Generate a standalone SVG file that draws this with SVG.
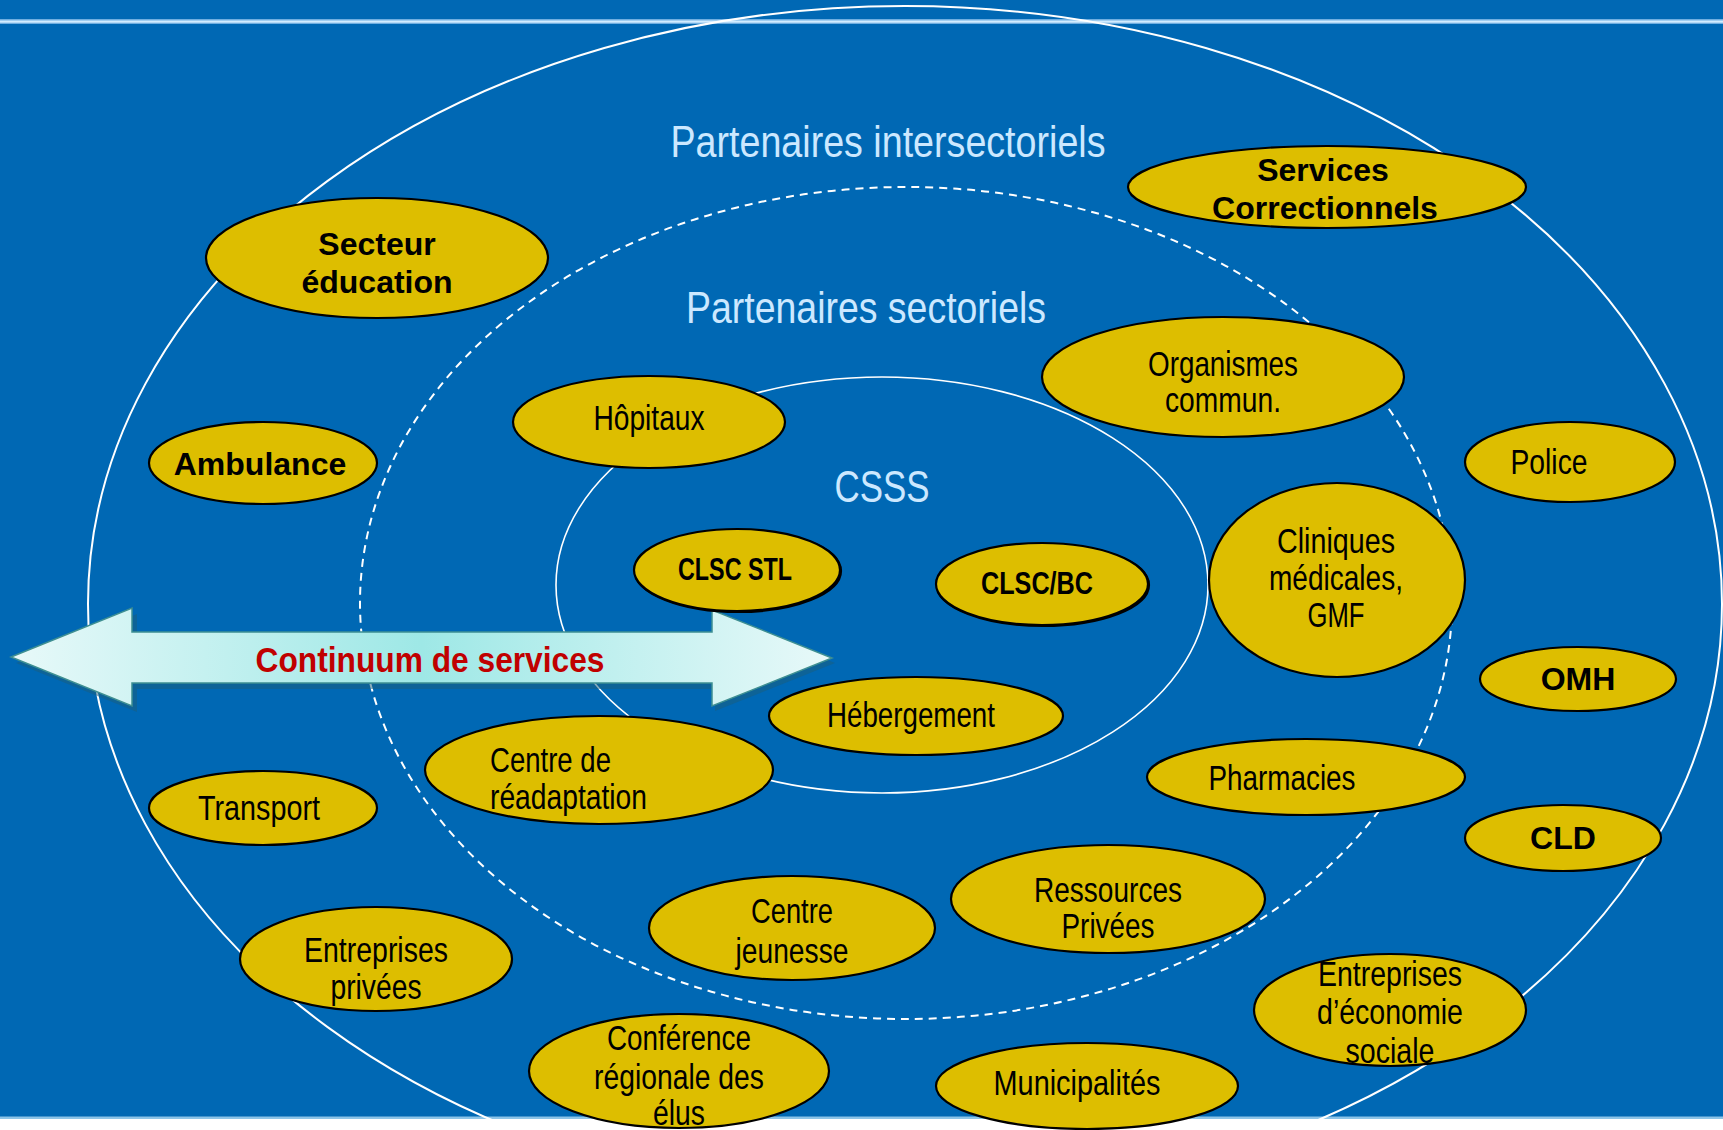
<svg xmlns="http://www.w3.org/2000/svg" width="1723" height="1130" viewBox="0 0 1723 1130">
<defs>
<style>
.node ellipse{fill:#DDBE00;stroke:#000;stroke-width:2.2}
.t{font-family:"Liberation Sans",Arial,sans-serif;font-size:35px;fill:#000;text-anchor:middle}
.s{font-family:"Liberation Sans",Arial,sans-serif;font-size:35px;fill:#000;text-anchor:start}
.b{font-family:"Liberation Sans",Arial,sans-serif;font-weight:bold;font-size:32px;fill:#000;text-anchor:middle}
.c{font-family:"Liberation Sans",Arial,sans-serif;font-weight:bold;font-size:32px;fill:#000;text-anchor:middle}
.lab{font-family:"Liberation Sans",Arial,sans-serif;font-size:45px;fill:#CCE8FF;text-anchor:middle}
</style>
<linearGradient id="arr" x1="0" y1="0" x2="1" y2="0">
<stop offset="0" stop-color="#E8F9F9"/>
<stop offset="0.5" stop-color="#9EE8E6"/>
<stop offset="1" stop-color="#E8F9F9"/>
</linearGradient>
</defs>
<rect x="0" y="0" width="1723" height="1130" fill="#0068B4"/>
<rect x="0" y="19" width="1723" height="5" fill="#6FAEE0"/>
<rect x="0" y="20.5" width="1723" height="2.2" fill="#D2ECFF"/>
<rect x="0" y="1116.5" width="1723" height="3" fill="#8CC4E8"/>
<rect x="0" y="1119" width="1723" height="11" fill="#FFFFFF"/>

<g id="rings" fill="none" stroke="#FFFFFF">
<ellipse cx="905" cy="604" rx="817" ry="598" stroke-width="2"/>
<ellipse cx="906" cy="603" rx="546" ry="416" stroke-width="2" stroke-dasharray="8 6"/>
<ellipse cx="882" cy="585" rx="326" ry="208" stroke-width="1.6"/>
</g>

<text class="lab" x="888" y="157" textLength="435" lengthAdjust="spacingAndGlyphs">Partenaires intersectoriels</text>
<text class="lab" x="866" y="323" textLength="360" lengthAdjust="spacingAndGlyphs">Partenaires sectoriels</text>
<text class="lab" x="882" y="502" textLength="95" lengthAdjust="spacingAndGlyphs">CSSS</text>

<g id="continuum">
<polygon points="14,660 135,611 135,635 713,635 713,612 833,660 713,708 713,686 135,686 135,709" fill="#1B5E7A" opacity="0.5" transform="translate(2,3)"/>
<polygon points="11,657 132,608 132,632 712,632 712,610 832,658 712,706 712,683 132,683 132,706" fill="url(#arr)" stroke="#3E8F92" stroke-width="1.5"/>
<text x="430" y="672" font-family="'Liberation Sans',Arial,sans-serif" font-weight="bold" font-size="35" fill="#C00000" text-anchor="middle" textLength="349" lengthAdjust="spacingAndGlyphs">Continuum de services</text>
</g>

<g id="secteur-education" class="node"><ellipse cx="377" cy="258" rx="171" ry="60"/><text class="b" x="377" y="255">Secteur</text><text class="b" x="377" y="293">éducation</text></g>
<g id="services-correctionnels" class="node"><ellipse cx="1327" cy="187" rx="199" ry="41"/><text class="b" x="1323" y="181">Services</text><text class="b" x="1325" y="219">Correctionnels</text></g>
<g id="ambulance" class="node"><ellipse cx="263" cy="463" rx="114" ry="41"/><text class="b" x="260" y="475">Ambulance</text></g>
<g id="hopitaux" class="node"><ellipse cx="649" cy="422" rx="136" ry="46"/><text class="t" x="649" y="430" textLength="111" lengthAdjust="spacingAndGlyphs">Hôpitaux</text></g>
<g id="organismes" class="node"><ellipse cx="1223" cy="377" rx="181" ry="60"/><text class="t" x="1223" y="376" textLength="150" lengthAdjust="spacingAndGlyphs">Organismes</text><text class="t" x="1223" y="412" textLength="116" lengthAdjust="spacingAndGlyphs">commun.</text></g>
<g id="police" class="node"><ellipse cx="1570" cy="462" rx="105" ry="40"/><text class="t" x="1549" y="474" textLength="77" lengthAdjust="spacingAndGlyphs">Police</text></g>
<g id="clsc-stl" class="node"><ellipse cx="738" cy="571" rx="103" ry="41" fill="#000" stroke="none"/><ellipse cx="737" cy="570" rx="103" ry="41" stroke-width="2.5"/><text class="c" x="735" y="580" textLength="114" lengthAdjust="spacingAndGlyphs">CLSC STL</text></g>
<g id="clsc-bc" class="node"><ellipse cx="1043" cy="585" rx="106" ry="41" fill="#000" stroke="none"/><ellipse cx="1042" cy="584" rx="106" ry="41" stroke-width="2.5"/><text class="c" x="1037" y="594" textLength="112" lengthAdjust="spacingAndGlyphs">CLSC/BC</text></g>
<g id="cliniques" class="node"><ellipse cx="1337" cy="580" rx="128" ry="97"/><text class="t" x="1336" y="553" textLength="118" lengthAdjust="spacingAndGlyphs">Cliniques</text><text class="t" x="1336" y="590" textLength="134" lengthAdjust="spacingAndGlyphs">médicales,</text><text class="t" x="1336" y="627" textLength="57" lengthAdjust="spacingAndGlyphs">GMF</text></g>
<g id="omh" class="node"><ellipse cx="1578" cy="679" rx="98" ry="32"/><text class="b" x="1578" y="690">OMH</text></g>
<g id="hebergement" class="node"><ellipse cx="916" cy="716" rx="147" ry="39"/><text class="t" x="911" y="727" textLength="168" lengthAdjust="spacingAndGlyphs">Hébergement</text></g>
<g id="readaptation" class="node"><ellipse cx="599" cy="770" rx="174" ry="54"/><text class="s" x="490" y="772" textLength="121" lengthAdjust="spacingAndGlyphs">Centre de</text><text class="s" x="490" y="809" textLength="157" lengthAdjust="spacingAndGlyphs">réadaptation</text></g>
<g id="pharmacies" class="node"><ellipse cx="1306" cy="777" rx="159" ry="38"/><text class="t" x="1282" y="790" textLength="147" lengthAdjust="spacingAndGlyphs">Pharmacies</text></g>
<g id="cld" class="node"><ellipse cx="1563" cy="838" rx="98" ry="33"/><text class="b" x="1563" y="849">CLD</text></g>
<g id="transport" class="node"><ellipse cx="263" cy="808" rx="114" ry="37"/><text class="t" x="259" y="820" textLength="122" lengthAdjust="spacingAndGlyphs">Transport</text></g>
<g id="ressources" class="node"><ellipse cx="1108" cy="899" rx="157" ry="54"/><text class="t" x="1108" y="902" textLength="148" lengthAdjust="spacingAndGlyphs">Ressources</text><text class="t" x="1108" y="938" textLength="93" lengthAdjust="spacingAndGlyphs">Privées</text></g>
<g id="centre-jeunesse" class="node"><ellipse cx="792" cy="928" rx="143" ry="52"/><text class="t" x="792" y="923" textLength="82" lengthAdjust="spacingAndGlyphs">Centre</text><text class="t" x="792" y="963" textLength="113" lengthAdjust="spacingAndGlyphs">jeunesse</text></g>
<g id="entreprises-privees" class="node"><ellipse cx="376" cy="959" rx="136" ry="52"/><text class="t" x="376" y="962" textLength="144" lengthAdjust="spacingAndGlyphs">Entreprises</text><text class="t" x="376" y="999" textLength="91" lengthAdjust="spacingAndGlyphs">privées</text></g>
<g id="economie-sociale" class="node"><ellipse cx="1390" cy="1010" rx="136" ry="56"/><text class="t" x="1390" y="986" textLength="144" lengthAdjust="spacingAndGlyphs">Entreprises</text><text class="t" x="1390" y="1024" textLength="146" lengthAdjust="spacingAndGlyphs">d’économie</text><text class="t" x="1390" y="1063" textLength="89" lengthAdjust="spacingAndGlyphs">sociale</text></g>
<g id="conference" class="node"><ellipse cx="679" cy="1071" rx="150" ry="57"/><text class="t" x="679" y="1050" textLength="144" lengthAdjust="spacingAndGlyphs">Conférence</text><text class="t" x="679" y="1089" textLength="170" lengthAdjust="spacingAndGlyphs">régionale des</text><text class="t" x="679" y="1125" textLength="52" lengthAdjust="spacingAndGlyphs">élus</text></g>
<g id="municipalites" class="node"><ellipse cx="1087" cy="1086" rx="151" ry="43"/><text class="t" x="1077" y="1095" textLength="167" lengthAdjust="spacingAndGlyphs">Municipalités</text></g>
</svg>
